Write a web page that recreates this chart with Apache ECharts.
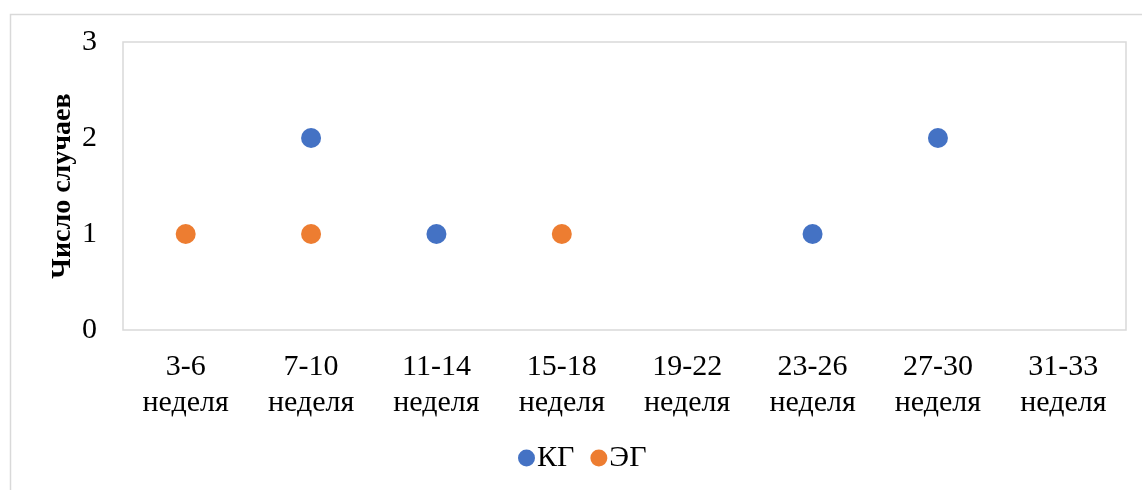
<!DOCTYPE html>
<html>
<head>
<meta charset="utf-8">
<script src="https://cdn.jsdelivr.net/npm/echarts@6/dist/echarts.min.js"></script>
<style>
  html, body { margin: 0; padding: 0; background: #ffffff; }
  #chart { width: 1142px; height: 490px; }
</style>
</head>
<body>
<div id="chart"></div>
<script>
// Gestational-week ranges on the category axis
var weeks = ['3-6\nнеделя', '7-10\nнеделя', '11-14\nнеделя', '15-18\nнеделя',
             '19-22\nнеделя', '23-26\nнеделя', '27-30\nнеделя', '31-33\nнеделя'];
// Number of cases per week range (null = no point drawn)
var kgCases = [null, 2, 1, null, null, 1, 2, null];
var egCases = [1, 1, null, 1, null, null, null, null];
var yTicks = { min: 0, max: 3, interval: 1 };

var serif = "'Liberation Serif', 'Times New Roman', serif";
var chart = echarts.init(document.getElementById('chart'), null, { renderer: 'canvas' });

chart.setOption({
  animation: false,
  backgroundColor: '#ffffff',
  graphic: [{
    type: 'rect',
    left: 8, top: 12,
    shape: { width: 1200, height: 520 },
    style: { fill: 'none', stroke: '#d9d9d9', lineWidth: 1.5 },
    silent: true, z: -1
  }],
  grid: {
    left: 123, right: 16, top: 42, bottom: 160,
    show: true, borderColor: '#d9d9d9', borderWidth: 1.5, backgroundColor: 'transparent'
  },
  legend: {
    left: 513, top: 438,
    itemWidth: 17, itemHeight: 18, itemGap: 16,
    icon: 'circle',
    textStyle: { fontFamily: serif, fontSize: 30, lineHeight: 19, color: '#000000', padding: [0, 0, 0, -3] },
    data: ['КГ', 'ЭГ']
  },
  xAxis: {
    type: 'category',
    data: weeks,
    boundaryGap: true,
    axisLine: { show: false },
    axisTick: { show: false },
    splitLine: { show: false },
    axisLabel: {
      interval: 0, margin: 19,
      fontFamily: serif, fontSize: 30, lineHeight: 36, color: '#000000', align: 'center'
    }
  },
  yAxis: {
    type: 'value',
    min: yTicks.min, max: yTicks.max, interval: yTicks.interval,
    name: 'Число случаев',
    nameLocation: 'middle', nameGap: 46, nameRotate: 90,
    nameMoveOverlap: false,
    nameTextStyle: { fontFamily: serif, fontSize: 28, fontWeight: 'bold', color: '#000000' },
    axisLine: { show: false },
    axisTick: { show: false },
    splitLine: { show: false },
    axisLabel: {
      margin: 26, fontFamily: serif, fontSize: 30, color: '#000000',
      padding: [14, 0, 0, 0]
    }
  },
  series: [
    {
      name: 'КГ', type: 'scatter', data: kgCases,
      symbol: 'circle', symbolSize: 20,
      itemStyle: { color: '#4472c4', opacity: 1 }
    },
    {
      name: 'ЭГ', type: 'scatter', data: egCases,
      symbol: 'circle', symbolSize: 20,
      itemStyle: { color: '#ed7d31', opacity: 1 }
    }
  ]
});
</script>
</body>
</html>
